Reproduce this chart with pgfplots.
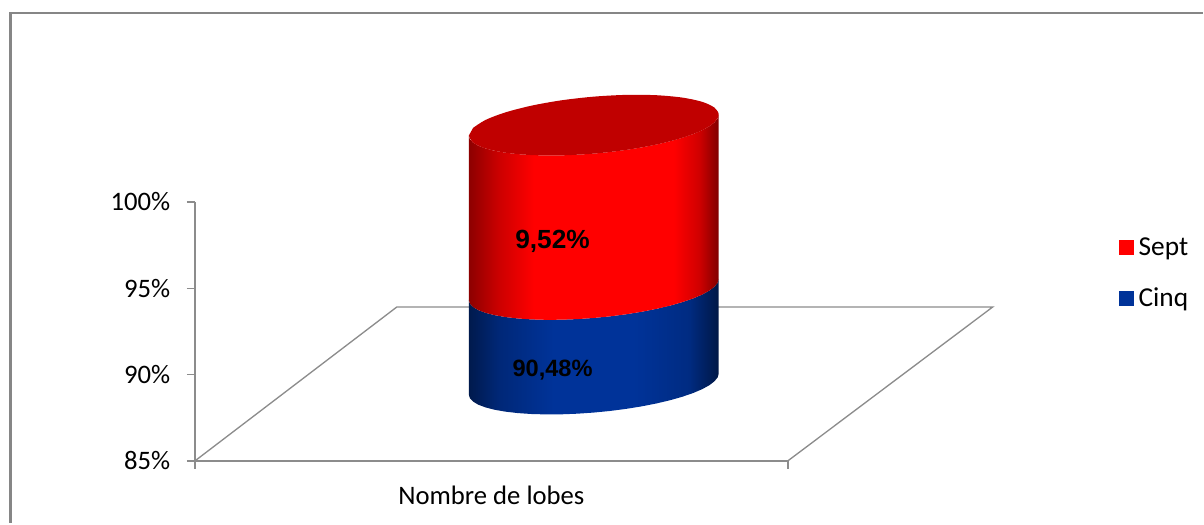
\documentclass[border=0pt]{standalone}
\usepackage{fontspec}
\setmainfont{Carlito}
\newfontfamily\labelfont{Liberation Sans}
\usepackage{pgfplots}
\usepackage{pgfplotstable}
\pgfplotsset{compat=1.18}

\definecolor{axisgray}{HTML}{8C8C8C}
\definecolor{framegray}{HTML}{868686}
\definecolor{cinqblue}{HTML}{003399}
\definecolor{septtop}{HTML}{C00000}

% Side shadings of the cylinder; the path box spans 25bp to 75bp
\pgfdeclarehorizontalshading{septside}{100bp}{
  color(0bp)=(red!55!black); color(25bp)=(red!55!black); color(31bp)=(red!80!black);
  color(38bp)=(red); color(66bp)=(red); color(71bp)=(red!82!black);
  color(75bp)=(red!50!black); color(100bp)=(red!50!black)}
\pgfdeclarehorizontalshading{cinqside}{100bp}{
  color(0bp)=(cinqblue!50!black); color(25bp)=(cinqblue!50!black); color(31bp)=(cinqblue!78!black);
  color(42bp)=(cinqblue); color(58bp)=(cinqblue); color(69bp)=(cinqblue!85!black);
  color(75bp)=(cinqblue!45!black); color(100bp)=(cinqblue!45!black)}

% Outline of a cylinder segment: front arc of the upper rim (up=1), then of the lower rim (up=0).
% dx, dy are offsets from the rim centre, in pixels of a 1204 wide picture
\pgfplotstableread{
dx dy up
-125 10.5 1
-123.9 14.13 1
-120.7 17.52 1
-115.5 20.61 1
-108.3 23.34 1
-99.2 25.68 1
-88.4 27.57 1
-76.1 29.0 1
-62.5 29.93 1
-47.8 30.35 1
-32.4 30.25 1
-16.3 29.62 1
0 28.5 1
16.3 26.88 1
32.4 24.81 1
47.8 22.31 1
62.5 19.43 1
76.1 16.22 1
88.4 12.73 1
99.2 9.02 1
108.3 5.16 1
115.5 1.21 1
120.7 -2.76 1
123.9 -6.69 1
125 -10.5 1
125 -10.5 0
123.9 -6.69 0
120.7 -2.76 0
115.5 1.21 0
108.3 5.16 0
99.2 9.02 0
88.4 12.73 0
76.1 16.22 0
62.5 19.43 0
47.8 22.31 0
32.4 24.81 0
16.3 26.88 0
0 28.5 0
-16.3 29.62 0
-32.4 30.25 0
-47.8 30.35 0
-62.5 29.93 0
-76.1 29.0 0
-88.4 27.57 0
-99.2 25.68 0
-108.3 23.34 0
-115.5 20.61 0
-120.7 17.52 0
-123.9 14.13 0
-125 10.5 0
}\segment

% Full rim, for the top of the stack
\pgfplotstableread{
dx dy
-125 10.5
-120.7 17.52
-108.3 23.34
-88.4 27.57
-62.5 29.93
-32.4 30.25
0 28.5
32.4 24.81
62.5 19.43
88.4 12.73
108.3 5.16
120.7 -2.76
125 -10.5
120.7 -17.52
108.3 -23.34
88.4 -27.57
62.5 -29.93
32.4 -30.25
0 -28.5
-32.4 -24.81
-62.5 -19.43
-88.4 -12.73
-108.3 -5.16
-120.7 2.76
}\rim

% Stack levels in percent
\def\baseval{85}
\def\cinqval{90.48}
\def\septval{100}
% Depth offset of the cylinder above the front of the floor, in percent
\def\depth{4.45}
\def\pxperpct{17.267}
\def\cx{593.9}

\begin{document}
\begin{tikzpicture}
\begin{axis}[
  scale only axis,
  width=444.75pt,
  height=194.25pt,
  xmin=195, xmax=788,
  ymin=85, ymax=100,
  clip=false,
  axis x line*=bottom,
  axis y line*=left,
  axis line style={axisgray, line width=1.1pt, -},
  xtick={195,788},
  xticklabels={},
  ytick={85,90,95,100},
  yticklabel={\pgfmathprintnumber{\tick}\%},
  /pgf/number format/assume math mode=true,
  tick style={axisgray, line width=1.1pt},
  major tick length=6pt,
  tick align=outside,
  every tick label/.style={font=\fontsize{20}{22}\selectfont, text=black},
  yticklabel style={xshift=-9pt},
  xlabel={Nombre de lobes},
  xlabel style={font=\fontsize{20}{22}\selectfont, at={(axis cs:491.5,82.5)}, anchor=base, inner sep=0pt},
  legend style={draw=none, fill=none, at={(axis cs:1118.8,98.1)}, anchor=north west,
    font=\fontsize{20.5}{22}\selectfont, row sep=19pt, inner sep=0pt},
  legend cell align=left,
  legend image code/.code={\path[#1] (0pt,-5.6pt) rectangle (11.25pt,5.6pt);},
  legend style={nodes={inner xsep=3.6pt}},
]
% Page extent and outer frame
\path (axis cs:0,81.41) rectangle (axis cs:1203,111.699);
\draw[framegray, line width=1.9pt] (axis cs:10.5,81.41) -- (axis cs:10.5,110.946) -- (axis cs:1203,110.946);

\addlegendimage{fill=red, draw=none}
\addlegendentry{Sept}
\addlegendimage{fill=cinqblue, draw=none}
\addlegendentry{Cinq}

% Floor of the 3-D plot
\addplot[axisgray, line width=1pt, forget plot] coordinates {
  (195,85) (397,93.919) (993,93.919) (788,85)};

% Cinq segment
\addplot[draw=none, shading=cinqside, forget plot] table[
  x expr=\cx+\thisrow{dx},
  y expr={\depth+(\thisrow{up}*\cinqval+(1-\thisrow{up})*\baseval)-\thisrow{dy}/\pxperpct}
] {\segment} -- cycle;
% Sept segment
\addplot[draw=none, shading=septside, forget plot] table[
  x expr=\cx+\thisrow{dx},
  y expr={\depth+(\thisrow{up}*\septval+(1-\thisrow{up})*\cinqval)-\thisrow{dy}/\pxperpct}
] {\segment} -- cycle;
% Top face
\addplot[draw=none, fill=septtop, smooth, forget plot] table[
  x expr=\cx+\thisrow{dx},
  y expr={\depth+\septval-\thisrow{dy}/\pxperpct}
] {\rim} -- cycle;

% Value labels
\node[font=\labelfont\bfseries\fontsize{19.7}{22}\selectfont, yshift=-1.5pt] at (axis cs:552.7,97.857) {9,52\%};
\node[font=\labelfont\bfseries\fontsize{17.7}{20}\selectfont, yshift=-1.5pt] at (axis cs:552.7,90.386) {90,48\%};
\end{axis}
\end{tikzpicture}
\end{document}
